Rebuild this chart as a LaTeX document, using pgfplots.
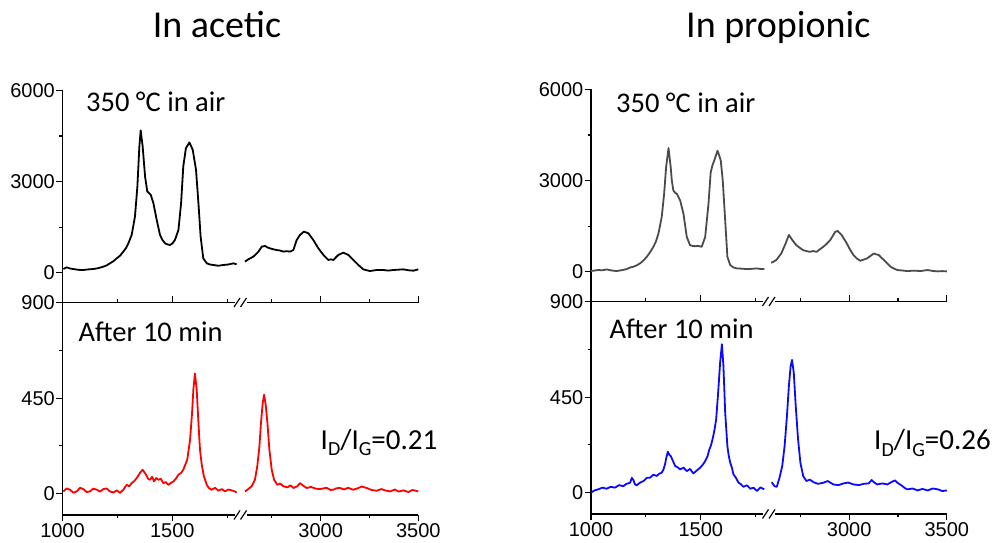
\documentclass[border=0pt]{standalone}
\usepackage{fontspec}
\setmainfont{Carlito}
\newfontfamily\arialf{Liberation Sans}
\usepackage{pgfplots}
\usepackage{pgfplotstable}
\pgfplotsset{compat=1.18}

\definecolor{specgray}{RGB}{75,75,75}
\definecolor{specred}{RGB}{255,0,0}
\definecolor{specblue}{RGB}{10,10,255}

% Raman spectra, wavenumber (cm^-1) and intensity (counts);
% each spectrum is split at the axis break into a low and a high range.
\pgfplotstableread{
w I
1004 122
1019 177
1034 140
1049 122
1072 95
1095 89
1118 110
1140 122
1163 150
1186 199
1201 240
1216 309
1232 380
1247 474
1262 560
1277 694
1290 820
1300 968
1315 1243
1330 1847
1341 2836
1350 4155
1356 4683
1365 4155
1376 3166
1386 2672
1402 2562
1414 2287
1429 1738
1444 1243
1455 1080
1467 968
1478 930
1490 913
1500 960
1512 1078
1528 1408
1540 2287
1550 3496
1562 4100
1578 4287
1593 4045
1608 3386
1619 2287
1629 1188
1641 474
1657 309
1672 270
1687 254
1710 230
1732 254
1755 270
1778 309
1793 276
}\accTopLo
\pgfplotstableread{
w I
2612 364
2629 441
2655 529
2681 694
2698 858
2715 880
2728 830
2740 803
2757 770
2774 748
2792 730
2809 694
2826 710
2843 694
2860 748
2877 1078
2894 1243
2914 1353
2937 1298
2962 1078
2988 803
3014 584
3027 500
3039 419
3052 440
3065 419
3077 500
3090 584
3116 660
3142 584
3167 419
3193 254
3218 111
3236 80
3253 56
3287 90
3321 89
3346 70
3372 89
3398 100
3423 111
3450 80
3475 67
3500 111
}\accTopHi
\pgfplotstableread{
w I
1004 11
1019 25
1034 19
1050 5
1065 11
1080 28
1095 22
1110 8
1125 11
1140 24
1156 19
1171 10
1186 22
1201 25
1216 11
1232 6
1247 16
1262 4
1277 19
1292 42
1304 35
1315 50
1327 60
1338 74
1353 98
1365 113
1380 90
1390 70
1399 66
1408 80
1417 58
1427 74
1436 66
1448 70
1459 50
1470 55
1482 42
1493 50
1505 58
1517 72
1528 90
1540 98
1550 113
1568 160
1581 255
1590 381
1596 491
1603 566
1611 491
1619 334
1626 208
1634 137
1644 82
1657 42
1668 25
1679 19
1695 28
1710 14
1725 22
1740 11
1755 20
1770 16
1782 12
1793 6
}\accBotLo
\pgfplotstableread{
w I
2612 11
2629 22
2646 35
2663 66
2675 129
2686 223
2694 334
2703 428
2710 466
2718 420
2727 334
2737 208
2749 113
2761 66
2778 42
2792 48
2809 35
2830 30
2845 40
2860 27
2880 35
2894 50
2910 38
2928 27
2950 32
2975 24
2996 22
3030 28
3050 18
3065 19
3080 26
3099 27
3120 20
3140 28
3167 19
3190 26
3210 34
3236 27
3260 18
3287 14
3310 22
3330 16
3355 11
3380 20
3400 10
3423 16
3450 8
3470 18
3500 11
}\accBotHi
\pgfplotstableread{
w I
1000 22
1017 40
1033 55
1052 48
1071 76
1094 40
1117 22
1140 50
1163 87
1178 140
1193 164
1208 210
1223 273
1239 370
1254 491
1269 640
1284 818
1296 1000
1307 1255
1322 1800
1333 2564
1342 3437
1353 4069
1363 3437
1368 3000
1375 2673
1383 2600
1391 2564
1406 2346
1421 1909
1436 1146
1451 873
1462 850
1474 840
1489 850
1504 818
1520 1146
1535 2237
1545 3273
1553 3500
1561 3655
1576 3982
1585 3800
1591 3655
1600 3000
1611 1691
1621 491
1634 218
1649 140
1664 109
1687 100
1710 87
1732 95
1755 109
1772 90
1789 87
}\proTopLo
\pgfplotstableread{
w I
2600 295
2612 330
2626 382
2652 600
2674 927
2691 1211
2709 1036
2729 873
2746 790
2764 709
2781 680
2798 655
2815 680
2833 655
2850 740
2867 818
2885 920
2902 1036
2915 1170
2928 1309
2941 1342
2950 1280
2962 1200
2988 927
3005 720
3022 546
3040 430
3057 360
3074 400
3091 436
3109 520
3126 600
3140 570
3152 546
3165 460
3178 382
3195 270
3212 164
3230 100
3247 55
3272 40
3298 22
3333 35
3367 22
3384 40
3402 55
3428 25
3454 11
3477 20
3500 11
}\proTopHi
\pgfplotstableread{
w I
1003 3
1018 12
1033 16
1052 24
1071 19
1090 28
1109 24
1128 36
1147 31
1162 42
1178 47
1186 70
1193 60
1200 40
1208 35
1224 48
1239 55
1254 70
1269 71
1284 85
1299 79
1311 90
1322 94
1330 110
1337 134
1343 165
1350 193
1356 180
1363 173
1373 150
1383 126
1394 120
1406 110
1421 118
1436 102
1451 112
1466 91
1482 105
1497 118
1509 132
1520 149
1530 170
1539 204
1547 225
1555 259
1563 300
1570 346
1580 487
1588 613
1596 699
1603 597
1611 377
1621 220
1627 175
1634 141
1641 120
1649 86
1660 70
1672 47
1683 40
1694 28
1710 35
1725 19
1740 24
1755 8
1772 25
1789 16
}\proBotLo
\pgfplotstableread{
w I
2603 50
2617 31
2629 28
2643 71
2657 126
2669 220
2681 361
2691 503
2700 597
2707 625
2716 565
2726 408
2738 251
2750 141
2764 79
2781 55
2798 62
2816 50
2840 42
2867 47
2890 55
2919 39
2945 36
2971 44
2995 48
3022 39
3050 36
3074 42
3100 44
3115 60
3126 50
3143 39
3170 44
3195 39
3220 52
3235 58
3247 47
3273 31
3285 22
3298 16
3325 20
3350 11
3375 18
3402 11
3428 20
3454 16
3477 8
3500 11
}\proBotHi

% Broken wavenumber axis: 1000-1808 drawn at full scale, the high range
% mapped onto 1808-2620 with  v = 2175.8 + (w - 3000)*0.8889.
\pgfplotsset{
  raman/.style={
    scale only axis, width=355.8pt, anchor=south west,
    xmin=1000, xmax=2620.2,
    tick align=outside,
    major tick length=6.5pt, minor tick length=3.5pt,
    tick style={black, line width=1.1pt},
    axis line style={black, line width=1.3pt},
    tick label style={font=\arialf\fontsize{20}{20}\selectfont},
    yticklabel style={inner sep=1pt},
    xticklabel style={inner sep=2pt},
    axis y line*=left,
  },
  toppanel/.style={raman, height=212.1pt, ymin=-980, ymax=6000,
    axis x line=none,
    ytick={0,3000,6000}, yticklabels={0,3000,6000}, minor ytick={1500,4500}},
  botpanel/.style={raman, height=212.5pt, ymin=-100, ymax=900,
    axis x line=box, xtick pos=both, xticklabel pos=lower,
    xtick={1000,1500,2175.8,2620.2}, xticklabels={1000,1500,3000,3500},
    minor xtick={1250,1750,1953.6,2398},
    ytick={0,450,900}, yticklabels={0,450,900}, minor ytick={225,675}},
  spec/.style={line width=1.8pt, line join=round},
}

\newcommand{\ratio}[1]{I\raisebox{-0.22em}{\fontsize{20}{20}\selectfont D}/I\raisebox{-0.22em}{\fontsize{20}{20}\selectfont G}=#1}

\begin{document}
\begin{tikzpicture}[x=1pt,y=1pt]
\useasboundingbox (0,0) rectangle (998,543);

% ---- acetic acid ----
\begin{axis}[toppanel, at={(62.5pt,240.5pt)}]
  \addplot[spec, black] table[x=w, y=I] {\accTopLo};
  \addplot[spec, black] table[x expr={2175.8+(\thisrow{w}-3000)*0.8889}, y=I] {\accTopHi};
\end{axis}
\begin{axis}[botpanel, at={(62.5pt,28pt)}]
  \addplot[spec, specred] table[x=w, y=I] {\accBotLo};
  \addplot[spec, specred] table[x expr={2175.8+(\thisrow{w}-3000)*0.8889}, y=I] {\accBotHi};
\end{axis}

% ---- propionic acid ----
\begin{axis}[toppanel, at={(591pt,241.5pt)}]
  \addplot[spec, specgray] table[x=w, y=I] {\proTopLo};
  \addplot[spec, specgray] table[x expr={2175.8+(\thisrow{w}-3000)*0.8889}, y=I] {\proTopHi};
\end{axis}
\begin{axis}[botpanel, at={(591pt,29pt)}]
  \addplot[spec, specblue] table[x=w, y=I] {\proBotLo};
  \addplot[spec, specblue] table[x expr={2175.8+(\thisrow{w}-3000)*0.8889}, y=I] {\proBotHi};
\end{axis}

% axis break marks
\foreach \xo/\yl in {0/28, 0/240.5, 528.5/29, 528.5/241.5}{
  \fill[white] (\xo+234.5,\yl-2.5) rectangle (\xo+246.5,\yl+2.5);
  \draw[line width=1.2pt] (\xo+234,\yl-4.5) -- (\xo+240,\yl+4.5);
  \draw[line width=1.2pt] (\xo+240.5,\yl-4.5) -- (\xo+246.5,\yl+4.5);
}

% titles and annotations
\node[anchor=base, inner sep=0] at (217,505.7) {\fontsize{38}{40}\selectfont In acetic};
\node[anchor=base, inner sep=0] at (778.3,505.7) {\fontsize{38}{40}\selectfont In propionic};
\node[anchor=base west, inner sep=0] at (86,431.5) {\fontsize{28.5}{30}\selectfont 350 °C in air};
\node[anchor=base west, inner sep=0] at (616,430) {\fontsize{28.5}{30}\selectfont 350 °C in air};
\node[anchor=base west, inner sep=0] at (78.5,201.3) {\fontsize{28.5}{30}\selectfont After 10 min};
\node[anchor=base west, inner sep=0] at (609.5,204.7) {\fontsize{28.5}{30}\selectfont After 10 min};
\node[anchor=base west, inner sep=0] at (320.5,93.5) {\fontsize{29}{30}\selectfont \ratio{0.21}};
\node[anchor=base west, inner sep=0] at (874,93) {\fontsize{29}{30}\selectfont \ratio{0.26}};
\end{tikzpicture}
\end{document}
